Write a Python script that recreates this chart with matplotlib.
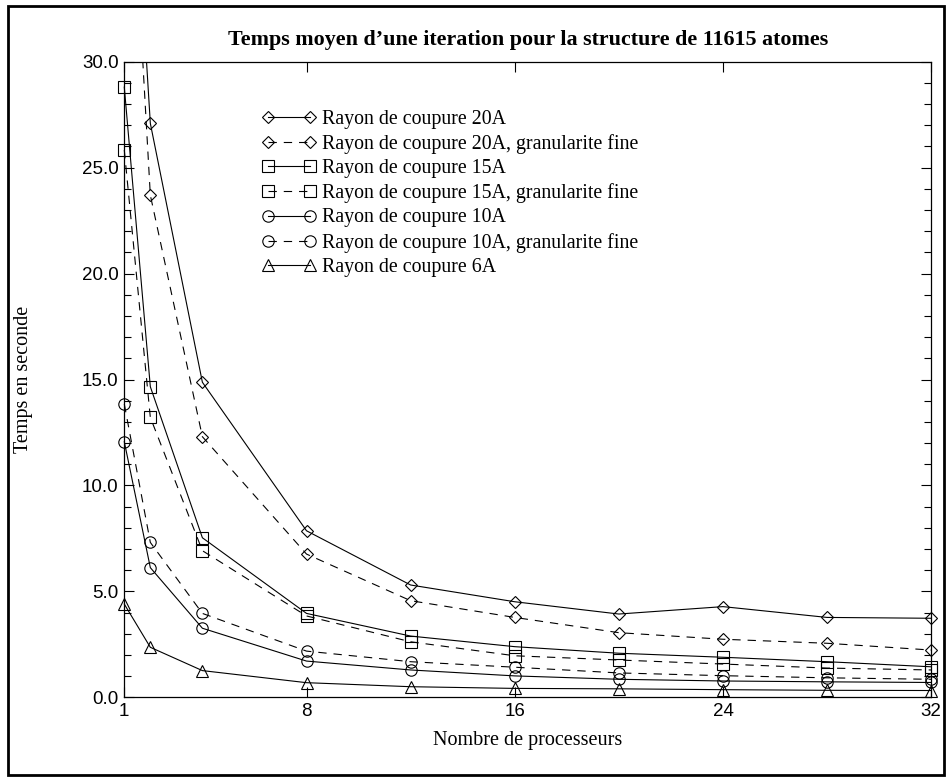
import numpy as np
import matplotlib
matplotlib.use("Agg")
import matplotlib.pyplot as plt
from matplotlib.patches import Rectangle

procs = [1, 2, 4, 8, 12, 16, 20, 24, 28, 32]
r20 = [47.0, 27.09, 14.87, 7.86, 5.30, 4.51, 3.93, 4.28, 3.77, 3.73]
r20_fine = [45.5, 23.70, 12.30, 6.76, 4.56, 3.77, 3.05, 2.74, 2.55, 2.23]
r15 = [28.8, 14.66, 7.53, 3.96, 2.89, 2.39, 2.08, 1.89, 1.68, 1.44]
r15_fine = [25.83, 13.21, 6.92, 3.84, 2.62, 1.96, 1.76, 1.57, 1.38, 1.29]
r10 = [12.06, 6.12, 3.26, 1.71, 1.29, 1.01, 0.85, 0.77, 0.73, 0.70]
r10_fine = [13.84, 7.31, 3.96, 2.18, 1.68, 1.42, 1.15, 1.02, 0.92, 0.85]
r6 = [4.40, 2.36, 1.26, 0.69, 0.50, 0.42, 0.40, 0.36, 0.33, 0.32]

labels = ["Rayon de coupure 20A", "Rayon de coupure 20A, granularite fine",
          "Rayon de coupure 15A", "Rayon de coupure 15A, granularite fine",
          "Rayon de coupure 10A", "Rayon de coupure 10A, granularite fine",
          "Rayon de coupure 6A"]
series = [r20, r20_fine, r15, r15_fine, r10, r10_fine, r6]
markers = ["D", "D", "s", "s", "o", "o", "^"]
msizes = [6.6, 6.6, 8.4, 8.4, 8.2, 8.2, 8.6]
dashed = [False, True, False, True, False, True, False]

yticks = [0, 5, 10, 15, 20, 25, 30]
xticks = [1, 8, 16, 24, 32]

plt.rcParams['lines.scale_dashes'] = False
serif = ['Liberation Serif', 'DejaVu Serif']
sans = ['Liberation Sans', 'DejaVu Sans']

W, H = 948, 777
fig = plt.figure(figsize=(W / 100, H / 100), dpi=100)
ax = fig.add_axes([124.3 / W, 1 - 697.3 / H, (931.2 - 124.3) / W, (697.3 - 61.7) / H])

clip = Rectangle((-0.04, -0.04), 1.08, 1.04, transform=ax.transAxes)
for y, lab, m, ms, d in zip(series, labels, markers, msizes, dashed):
    ln, = ax.plot(procs, y, color='black', lw=0.8, marker=m, ms=ms,
                  markerfacecolor='none', markeredgecolor='black', markeredgewidth=0.8,
                  label=lab)
    if d:
        ln.set_dashes((6, 5))
    ln.set_clip_path(clip)

ax.set_xlim(1, 32)
ax.set_ylim(0, 30)
ax.set_xticks(xticks)
ax.set_yticks(yticks)
ax.set_yticks(np.arange(0, 31, 1), minor=True)
ax.set_yticklabels(["%.1f" % v for v in yticks])
ax.tick_params(axis='both', which='both', direction='in', top=True, right=True,
               width=0.8, colors='black')
ax.tick_params(axis='both', which='major', length=7, labelsize=13.5, pad=4)
ax.tick_params(axis='both', which='minor', length=5)
for t in ax.get_xticklabels() + ax.get_yticklabels():
    t.set_family(sans)
for s in ax.spines.values():
    s.set_linewidth(0.9)

ax.set_title("Temps moyen d\u2019une iteration pour la structure de 11615 atomes",
             family=serif, fontweight='bold', fontsize=15.8, pad=12)
ax.set_xlabel("Nombre de processeurs", family=serif, fontsize=14.5, labelpad=8)
ax.set_ylabel("Temps en seconde", family=serif, fontsize=14.5, labelpad=35)

leg = ax.legend(loc='upper left', bbox_to_anchor=(262 / W, 1 - 110 / H),
                bbox_transform=fig.transFigure, frameon=False, numpoints=2,
                handlelength=2.7, handletextpad=0.3, labelspacing=0.26,
                prop={'family': serif, 'size': 14.3}, borderpad=0, borderaxespad=0)

fig.patches.append(Rectangle((8 / W, 2 / H), (944 - 8) / W, (771 - 2) / H,
                             transform=fig.transFigure, fill=False,
                             edgecolor='black', linewidth=2.0))

fig.savefig("out.png", dpi=100)
